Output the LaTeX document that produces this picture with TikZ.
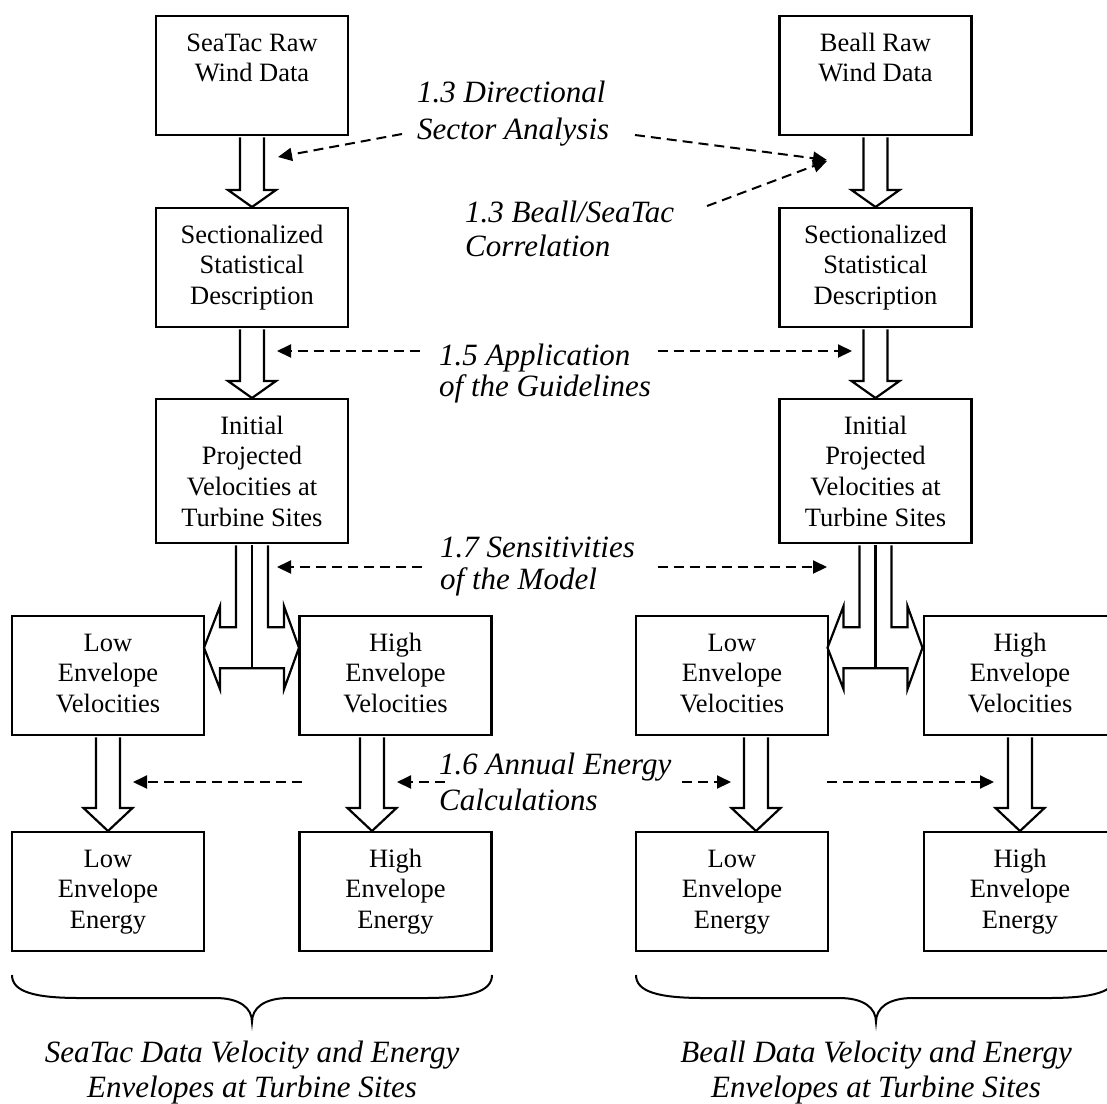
\documentclass[tikz,border=0pt]{standalone}
\usepackage{fontspec}
\setmainfont{Liberation Serif}
\usetikzlibrary{arrows.meta,calc}
\newcommand\dnarrow[5]{%
  \draw[blk] let \p1=(#1.south), \p2=(#2.north) in
    (\x1+#3-12pt,\y1-1.1pt) -- (\x1+#3-12pt,\y2+#4) -- (\x1+#3-#5,\y2+#4) -- (\x1+#3,\y2)
    -- (\x1+#3+#5,\y2+#4) -- (\x1+#3+12pt,\y2+#4) -- (\x1+#3+12pt,\y1-1.1pt);
}
\newcommand\splitarrow[1]{%
  \draw[blk] let \p1=(#1.south) in
    (\x1-16pt,\y1-1.1pt) -- (\x1-16pt,\y1-83pt) -- (\x1-32pt,\y1-83pt) -- (\x1-32pt,\y1-62pt)
    -- (\x1-48pt,\y1-103.5pt) -- (\x1-32pt,\y1-145pt) -- (\x1-32pt,\y1-124pt)
    -- (\x1+32pt,\y1-124pt) -- (\x1+32pt,\y1-145pt) -- (\x1+47pt,\y1-103.5pt)
    -- (\x1+32pt,\y1-62pt) -- (\x1+32pt,\y1-83pt) -- (\x1+16pt,\y1-83pt) -- (\x1+16pt,\y1-1.1pt);
  \draw[line width=2.2pt] let \p1=(#1.south) in (\x1,\y1-1.1pt) -- (\x1,\y1-124pt);
}
\newcommand\fl{\rule{0pt}{24pt}}
\begin{document}
\begin{tikzpicture}[x=1pt,y=-1pt,
  box/.style={draw, line width=2.2pt, minimum width=192pt, anchor=north, inner sep=0pt},
  boxtxt/.style={anchor=north, align=center, inner sep=0pt, font=\fontsize{26.5}{30.7}\selectfont},
  lbl/.style={anchor=north west, align=left, inner sep=0pt, font=\fontsize{31}{#1}\selectfont\itshape},
  captxt/.style={anchor=north, align=center, inner sep=0pt, font=\fontsize{31}{35}\selectfont\itshape},
  blk/.style={draw, line width=2.2pt, fill=white, line join=miter},
  dsh/.style={line width=2pt, dash pattern=on 10pt off 6pt, -{Triangle[length=14pt,width=13pt]}},
  brc/.style={line width=2pt}
]
\useasboundingbox (0,0) rectangle (1107,1103);
\fill[white] (0,0) rectangle (1107,1103);
\clip (0,0) rectangle (1107,1103);

% ---------- SeaTac column ----------
\node[box, minimum height=119pt] (sr) at (252,15) {};
\node[box, minimum height=119pt] (sd) at (252,207) {};
\node[box, minimum height=144pt] (si) at (252,398) {};
\node[box, minimum height=119pt] (slv) at (108,615) {};
\node[box, minimum height=119pt] (shv) at (395.5,615) {};
\node[box, minimum height=119pt] (sle) at (108,831) {};
\node[box, minimum height=119pt] (she) at (395.5,831) {};

% ---------- Beall column ----------
\node[box, minimum height=119pt] (br) at (875.5,15) {};
\node[box, minimum height=119pt] (bd) at (875.5,207) {};
\node[box, minimum height=144pt] (bi) at (875.5,398) {};
\node[box, minimum height=119pt] (blv) at (732,615) {};
\node[box, minimum height=119pt] (bhv) at (1020,615) {};
\node[box, minimum height=119pt] (ble) at (732,831) {};
\node[box, minimum height=119pt] (bhe) at (1020,831) {};

% box texts
\node[boxtxt] (srt) at ([yshift=-14.5pt]sr.north) {\strut SeaTac Raw\\Wind Data};
\node[boxtxt] (sdt) at ([yshift=-14.5pt]sd.north) {\strut Sectionalized\\Statistical\\Description};
\node[boxtxt] (sit) at ([yshift=-14.5pt]si.north) {\strut Initial\\Projected\\Velocities at\\Turbine Sites};
\node[boxtxt] (slvt) at ([yshift=-14.5pt]slv.north) {\strut Low\\Envelope\\Velocities};
\node[boxtxt] (shvt) at ([yshift=-14.5pt]shv.north) {\strut High\\Envelope\\Velocities};
\node[boxtxt] (slet) at ([yshift=-14.5pt]sle.north) {\strut Low\\Envelope\\Energy};
\node[boxtxt] (shet) at ([yshift=-14.5pt]she.north) {\strut High\\Envelope\\Energy};

\node[boxtxt] (brt) at ([yshift=-14.5pt]br.north) {\strut Beall Raw\\Wind Data};
\node[boxtxt] (bdt) at ([yshift=-14.5pt]bd.north) {\strut Sectionalized\\Statistical\\Description};
\node[boxtxt] (bit) at ([yshift=-14.5pt]bi.north) {\strut Initial\\Projected\\Velocities at\\Turbine Sites};
\node[boxtxt] (blvt) at ([yshift=-14.5pt]blv.north) {\strut Low\\Envelope\\Velocities};
\node[boxtxt] (bhvt) at ([yshift=-14.5pt]bhv.north) {\strut High\\Envelope\\Velocities};
\node[boxtxt] (blet) at ([yshift=-14.5pt]ble.north) {\strut Low\\Envelope\\Energy};
\node[boxtxt] (bhet) at ([yshift=-14.5pt]bhe.north) {\strut High\\Envelope\\Energy};

% block arrows
\dnarrow{sr}{sd}{0pt}{17pt}{24pt}
\dnarrow{sd}{si}{0pt}{17pt}{24pt}
\dnarrow{br}{bd}{0pt}{17pt}{24pt}
\dnarrow{bd}{bi}{0pt}{17pt}{24pt}
\splitarrow{si}
\splitarrow{bi}
\dnarrow{slv}{sle}{0pt}{23pt}{24.5pt}
\dnarrow{shv}{she}{-23.5pt}{23pt}{24.5pt}
\dnarrow{blv}{ble}{24pt}{23pt}{24.5pt}
\dnarrow{bhv}{bhe}{0pt}{23pt}{24.5pt}

% italic labels (north = first baseline - 24)
\node[lbl=37] (l13a) at (417,78) {\fl 1.3 Directional\\Sector Analysis};
\node[lbl=34] (l13b) at (465,198) {\fl 1.3 Beall/SeaTac\\Correlation};
\node[lbl=31] (l15) at (439,341) {\fl 1.5 Application\\of the Guidelines};
\node[lbl=32] (l17) at (440,533) {\fl 1.7 Sensitivities\\of the Model};
\node[lbl=36] (l16) at (439,750) {\fl 1.6 Annual Energy\\Calculations};

% dashed arrows
\coordinate (d1s) at (402,134);  \coordinate (d1e) at (278,157);
\coordinate (d2s) at (635,135);  \coordinate (d2e) at (827,160);
\coordinate (d3s) at (707,206);  \coordinate (d3e) at (827,161);
\coordinate (d4s) at (420,351);  \coordinate (d4e) at (277,351);
\coordinate (d5s) at (658,351);  \coordinate (d5e) at (852,351);
\coordinate (d6s) at (422,567);  \coordinate (d6e) at (277,567);
\coordinate (d7s) at (658,567);  \coordinate (d7e) at (827,567);
\coordinate (d8s) at (302,782);  \coordinate (d8e) at (133,782);
\coordinate (d9s) at (445,782);  \coordinate (d9e) at (397,782);
\coordinate (d10s) at (682,782); \coordinate (d10e) at (731,782);
\coordinate (d11s) at (827,782); \coordinate (d11e) at (994,782);
\foreach \i in {1,...,11} {\draw[dsh] (d\i s) -- (d\i e);}

% braces
\draw[brc] (12,975) .. controls (12,992) and (35,998) .. (80,998) -- (215,998)
  .. controls (240,998) and (252,1008) .. (252,1022)
  .. controls (252,1008) and (264,998) .. (289,998) -- (424,998)
  .. controls (469,998) and (492,992) .. (492,975);
\draw[brc] (636,975) .. controls (636,992) and (659,998) .. (704,998) -- (839,998)
  .. controls (864,998) and (876,1008) .. (876,1022)
  .. controls (876,1008) and (888,998) .. (913,998) -- (1048,998)
  .. controls (1093,998) and (1116,992) .. (1116,975);

% captions
\node[captxt] (capS) at (252,1037.5) {\strut SeaTac Data Velocity and Energy\\Envelopes at Turbine Sites};
\node[captxt] (capB) at (876,1037.5) {\strut Beall Data Velocity and Energy\\Envelopes at Turbine Sites};
\end{tikzpicture}
\end{document}
